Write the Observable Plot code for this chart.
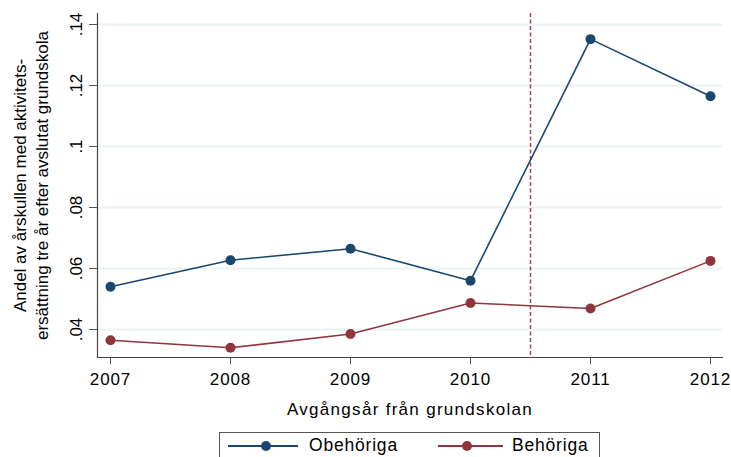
<!DOCTYPE html>
<html>
<head>
<meta charset="utf-8">
<script src="https://cdn.jsdelivr.net/npm/d3@7"></script>
<script src="https://cdn.jsdelivr.net/npm/@observablehq/plot@0.6"></script>
<style>
  html, body { margin: 0; padding: 0; background: #fff; }
  body { width: 731px; height: 457px; overflow: hidden; position: relative;
         font-family: "Liberation Sans", Arial, sans-serif; }
  #chart svg { display: block; }
  svg [aria-label="x-axis tick label"] text { letter-spacing: 0.9px; }
  #legend { position: absolute; left: 219px; top: 432px; width: 381px; height: 40px;
            border: 1px solid #555; box-sizing: border-box; background: #fff; }
  .ln { position: absolute; top: 12px; height: 1.6px; }
  .dt { position: absolute; top: 8px; width: 10px; height: 10px; border-radius: 50%; }
  .lb { position: absolute; top: 2px; font-size: 17.5px; letter-spacing: 0.8px; color: #000; white-space: nowrap; }
</style>
</head>
<body>
<div id="chart"></div>
<div id="legend"></div>
<script>
// ---- data ----
const years = [2007, 2008, 2009, 2010, 2011, 2012];
const obehoriga = [0.0540, 0.0627, 0.0665, 0.0560, 0.1352, 0.1165];
const behoriga  = [0.0365, 0.0340, 0.0385, 0.0487, 0.0469, 0.0625];
const seriesNames = ["Obehöriga", "Behöriga"];
const seriesColors = ["#1a476f", "#90353b"];
const yTicks = [0.04, 0.06, 0.08, 0.10, 0.12, 0.14];
const yTickLabels = [".04", ".06", ".08", ".1", ".12", ".14"];
const cutoffYear = [2010.5];
const xTitle = "Avgångsår från grundskolan";
const yTitle = "Andel av årskullen med aktivitets-\nersättning tre år efter avslutat grundskola";

// ---- tables built from the arrays ----
const rows = [];
years.forEach((yr, i) => {
  rows.push({year: yr, value: obehoriga[i], series: seriesNames[0]});
  rows.push({year: yr, value: behoriga[i], series: seriesNames[1]});
});
const yLabelRows = yTicks.map((v, i) => ({v, label: yTickLabels[i]}));

const plot = Plot.plot({
  width: 731,
  height: 420,
  marginLeft: 97,
  marginRight: 9,
  marginTop: 13,
  marginBottom: 63,
  style: {fontFamily: "'Liberation Sans', Arial, sans-serif", fontSize: "17px", color: "#000", background: "#fff"},
  x: {domain: [2006.8917, 2012.1]},
  y: {domain: [0.03082, 0.14361]},
  color: {domain: seriesNames, range: seriesColors},
  marks: [
    Plot.ruleY(yTicks, {stroke: "#eaf2f3", strokeWidth: 1.8}),
    Plot.ruleX(cutoffYear, {stroke: "#a5484f", strokeWidth: 1.5, strokeDasharray: "4,2.5"}),
    Plot.line(rows, {x: "year", y: "value", z: "series", stroke: "series", strokeWidth: 1.6}),
    Plot.dot(rows, {x: "year", y: "value", fill: "series", r: 5}),
    Plot.axisX({ticks: years, tickFormat: d => String(d), tickSize: 7, tickPadding: 8,
                fontSize: 17, label: null, stroke: "#555"}),
    Plot.axisY({ticks: yTicks, tickFormat: () => "", tickSize: 8, label: null, stroke: "#555"}),
    Plot.text(yLabelRows, {y: "v", text: "label", frameAnchor: "left", textAnchor: "middle",
                           rotate: -90, dx: -21, fontSize: 17, fill: "#000"}),
    Plot.frame({anchor: "left", stroke: "#444", strokeWidth: 1.2}),
    Plot.frame({anchor: "bottom", stroke: "#444", strokeWidth: 1.2}),
    Plot.text([xTitle], {frameAnchor: "bottom", dy: 57, fontSize: 17, fill: "#000"}),
    Plot.text([yTitle], {frameAnchor: "left", textAnchor: "middle", rotate: -90, dx: -68,
                         fontSize: 17, lineHeight: 1.3, fill: "#000"})
  ]
});
document.getElementById("chart").appendChild(plot);
// widen the horizontal x title slightly, like the reference
d3.select(plot).selectAll("text")
  .filter(function() { return this.textContent === xTitle; })
  .style("letter-spacing", "1.3px");

// ---- legend (HTML, below the plot area) ----
const legend = document.getElementById("legend");
const legendLayout = [
  {lineL: 8, lineW: 70, dot: 41, text: 89},
  {lineL: 218, lineW: 65, dot: 242, text: 292}
];
seriesNames.forEach((name, i) => {
  const L = legendLayout[i];
  const ln = document.createElement("div");
  ln.className = "ln"; ln.style.left = L.lineL + "px"; ln.style.width = L.lineW + "px";
  ln.style.background = seriesColors[i];
  const dt = document.createElement("div");
  dt.className = "dt"; dt.style.left = L.dot + "px"; dt.style.background = seriesColors[i];
  const lb = document.createElement("div");
  lb.className = "lb"; lb.style.left = L.text + "px"; lb.textContent = name;
  legend.appendChild(ln); legend.appendChild(dt); legend.appendChild(lb);
});
</script>
</body>
</html>
